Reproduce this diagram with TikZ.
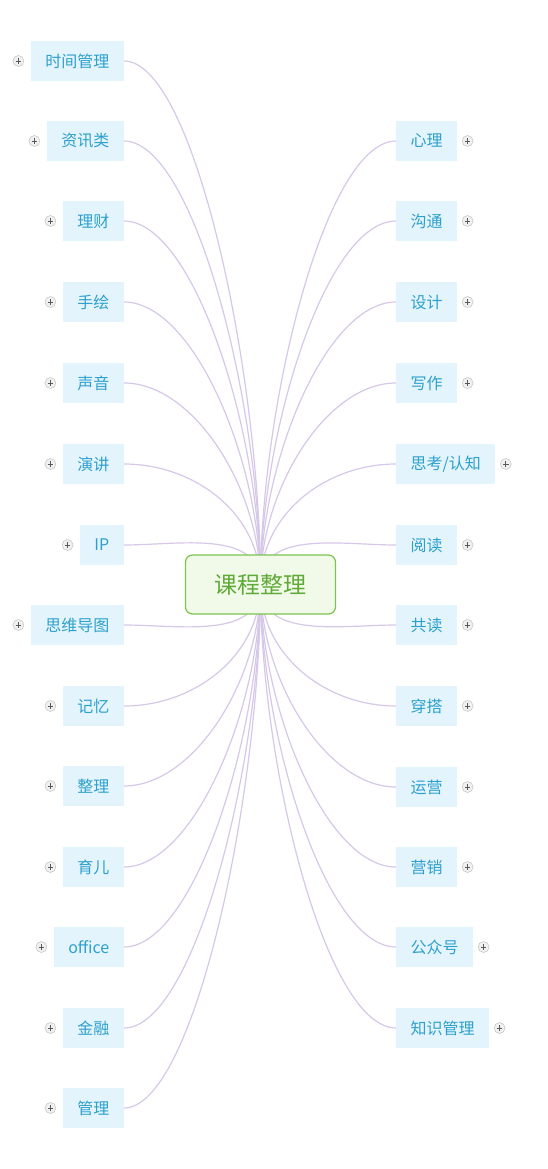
\documentclass[tikz,border=0pt]{standalone}
\usepackage{fontspec}
\setmainfont{Noto Sans CJK SC}
\usetikzlibrary{positioning,backgrounds}

\definecolor{topictext}{RGB}{45,160,205}
\definecolor{topicfill}{RGB}{228,244,252}
\definecolor{linkcol}{RGB}{214,200,232}
\definecolor{hubline}{RGB}{125,195,80}
\definecolor{hubfill}{RGB}{241,250,233}
\definecolor{hubtext}{RGB}{95,170,55}

\tikzset{
  topic/.style={fill=topicfill, text=topictext, font=\fontsize{16}{18}\selectfont, minimum height=40pt, inner xsep=14.5pt, inner ysep=0pt},
  hub/.style={draw=hubline, fill=hubfill, text=hubtext, line width=1.2pt, rounded corners=7pt, font=\fontsize{23}{26}\selectfont, minimum width=150pt, minimum height=59pt},
  link/.style={draw=linkcol, line width=1.2pt, out max distance=70pt},
  expander/.style={circle, draw=gray!55, fill=gray!12, minimum size=11pt, inner sep=0pt,
    path picture={\draw[black!65, line width=0.9pt]
      ([xshift=-2.8pt]path picture bounding box.center) -- ([xshift=2.8pt]path picture bounding box.center)
      ([yshift=-2.8pt]path picture bounding box.center) -- ([yshift=2.8pt]path picture bounding box.center);}}
}

\begin{document}
\begin{tikzpicture}[x=1pt, y=1pt]
      \def\lx{124}
      \def\rx{396}

      %center
      \node[hub, name=center] at (260.5,-584.5) {课程整理};

      %left topics
      \node[topic, anchor=east, name=time     ] at (\lx,  -61) {时间管理};
      \node[topic, anchor=east, name=news     ] at (\lx, -141) {资讯类};
      \node[topic, anchor=east, name=money    ] at (\lx, -221) {理财};
      \node[topic, anchor=east, name=sketch   ] at (\lx, -302) {手绘};
      \node[topic, anchor=east, name=voice    ] at (\lx, -383) {声音};
      \node[topic, anchor=east, name=speech   ] at (\lx, -464) {演讲};
      \node[topic, anchor=east, name=ip       ] at (\lx, -545) {IP};
      \node[topic, anchor=east, name=mindmap  ] at (\lx, -625) {思维导图};
      \node[topic, anchor=east, name=memory   ] at (\lx, -706) {记忆};
      \node[topic, anchor=east, name=tidy     ] at (\lx, -786) {整理};
      \node[topic, anchor=east, name=parenting] at (\lx, -867) {育儿};
      \node[topic, anchor=east, name=office   ] at (\lx, -947) {office};
      \node[topic, anchor=east, name=finance  ] at (\lx,-1028) {金融};
      \node[topic, anchor=east, name=manage   ] at (\lx,-1108) {管理};

      %right topics
      \node[topic, anchor=west, name=psych    ] at (\rx, -141) {心理};
      \node[topic, anchor=west, name=talk     ] at (\rx, -221) {沟通};
      \node[topic, anchor=west, name=design   ] at (\rx, -302) {设计};
      \node[topic, anchor=west, name=writing  ] at (\rx, -383) {写作};
      \node[topic, anchor=west, name=think    ] at (\rx, -464) {思考/认知};
      \node[topic, anchor=west, name=reading  ] at (\rx, -545) {阅读};
      \node[topic, anchor=west, name=coread   ] at (\rx, -625) {共读};
      \node[topic, anchor=west, name=dress    ] at (\rx, -706) {穿搭};
      \node[topic, anchor=west, name=ops      ] at (\rx, -787) {运营};
      \node[topic, anchor=west, name=marketing] at (\rx, -867) {营销};
      \node[topic, anchor=west, name=wechat   ] at (\rx, -947) {公众号};
      \node[topic, anchor=west, name=knowledge] at (\rx,-1028) {知识管理};

      %expanders
      \node[expander, left=6.5pt of time     ] {};
      \node[expander, left=6.5pt of news     ] {};
      \node[expander, left=6.5pt of money    ] {};
      \node[expander, left=6.5pt of sketch   ] {};
      \node[expander, left=6.5pt of voice    ] {};
      \node[expander, left=6.5pt of speech   ] {};
      \node[expander, left=6.5pt of ip       ] {};
      \node[expander, left=6.5pt of mindmap  ] {};
      \node[expander, left=6.5pt of memory   ] {};
      \node[expander, left=6.5pt of tidy     ] {};
      \node[expander, left=6.5pt of parenting] {};
      \node[expander, left=6.5pt of office   ] {};
      \node[expander, left=6.5pt of finance  ] {};
      \node[expander, left=6.5pt of manage   ] {};
      \node[expander, right=4.5pt of psych    ] {};
      \node[expander, right=4.5pt of talk     ] {};
      \node[expander, right=4.5pt of design   ] {};
      \node[expander, right=4.5pt of writing  ] {};
      \node[expander, right=4.5pt of think    ] {};
      \node[expander, right=4.5pt of reading  ] {};
      \node[expander, right=4.5pt of coread   ] {};
      \node[expander, right=4.5pt of dress    ] {};
      \node[expander, right=4.5pt of ops      ] {};
      \node[expander, right=4.5pt of marketing] {};
      \node[expander, right=4.5pt of wechat   ] {};
      \node[expander, right=4.5pt of knowledge] {};

      %links
      \begin{pgfonlayer}{background}
      \fill[white] (0,0) rectangle (547,-1169);
      \draw[link]      (time.east) to[out=0,  in=90 ] (center.center);
      \draw[link]      (news.east) to[out=0,  in=90 ] (center.center);
      \draw[link]     (money.east) to[out=0,  in=90 ] (center.center);
      \draw[link]    (sketch.east) to[out=0,  in=90 ] (center.center);
      \draw[link]     (voice.east) to[out=0,  in=90 ] (center.center);
      \draw[link]    (speech.east) to[out=0,  in=90 ] (center.center);
      \draw[link]        (ip.east) to[out=0,  in=90 ] (center.center);
      \draw[link]   (mindmap.east) to[out=0,  in=270] (center.center);
      \draw[link]    (memory.east) to[out=0,  in=270] (center.center);
      \draw[link]      (tidy.east) to[out=0,  in=270] (center.center);
      \draw[link] (parenting.east) to[out=0,  in=270] (center.center);
      \draw[link]    (office.east) to[out=0,  in=270] (center.center);
      \draw[link]   (finance.east) to[out=0,  in=270] (center.center);
      \draw[link]    (manage.east) to[out=0,  in=270] (center.center);
      \draw[link]     (psych.west) to[out=180,in=90 ] (center.center);
      \draw[link]      (talk.west) to[out=180,in=90 ] (center.center);
      \draw[link]    (design.west) to[out=180,in=90 ] (center.center);
      \draw[link]   (writing.west) to[out=180,in=90 ] (center.center);
      \draw[link]     (think.west) to[out=180,in=90 ] (center.center);
      \draw[link]   (reading.west) to[out=180,in=90 ] (center.center);
      \draw[link]    (coread.west) to[out=180,in=270] (center.center);
      \draw[link]     (dress.west) to[out=180,in=270] (center.center);
      \draw[link]       (ops.west) to[out=180,in=270] (center.center);
      \draw[link] (marketing.west) to[out=180,in=270] (center.center);
      \draw[link]    (wechat.west) to[out=180,in=270] (center.center);
      \draw[link] (knowledge.west) to[out=180,in=270] (center.center);
      \end{pgfonlayer}
\end{tikzpicture}
\end{document}
